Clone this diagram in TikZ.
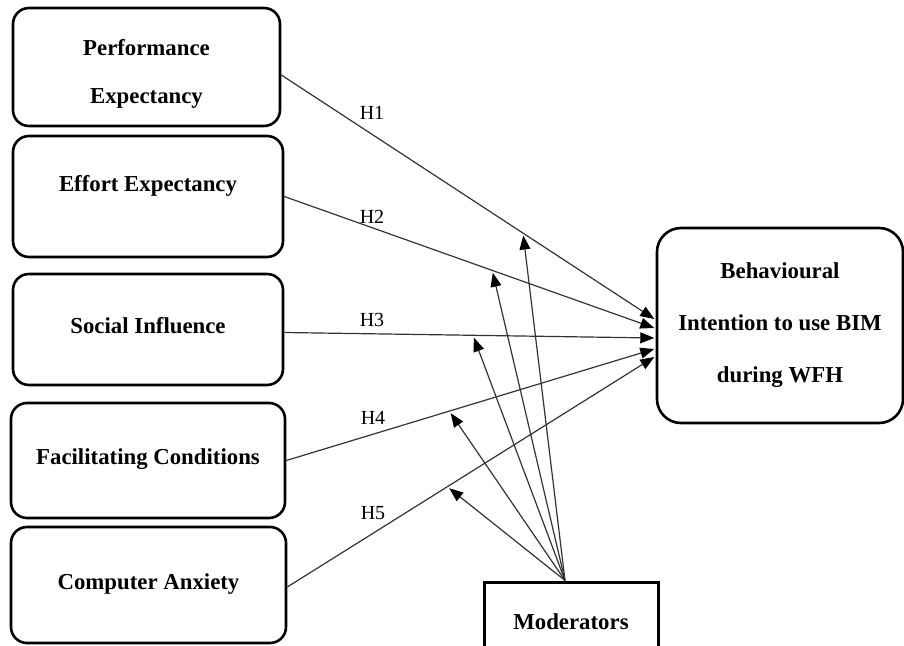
\documentclass[tikz,border=0pt]{standalone}
\usepackage{fontspec}
\setmainfont{Liberation Serif}
\usetikzlibrary{calc, positioning}
\usetikzlibrary{arrows.meta}

\tikzset{
  factor/.style={draw, line width=1.3pt, rounded corners=8pt, align=center, inner sep=0pt,
    font=\fontsize{11.4}{24}\selectfont\bfseries},
  ftext/.style={align=center, inner sep=0pt, font=\fontsize{11.4}{24}\selectfont\bfseries},
  hyp/.style={draw=black!80, line width=0.6pt, -{Triangle[length=7pt, width=5.4pt, color=black]}},
  modarrow/.style={hyp, shorten >=1.2pt},
  hlabel/.style={font=\fontsize{10}{11}\selectfont, inner sep=1pt}
}

\begin{document}
\begin{tikzpicture}[x=0.5pt, y=-0.5pt]
\clip (0,0) rectangle (904,646);

% constructs
\node[factor, minimum width=133.5pt, minimum height=59pt,
  label={[ftext, yshift=-3.5pt]center:Performance\\Expectancy}] (pe) at (146.5,67) {};
\node[factor, minimum width=135pt, minimum height=60.5pt] (ee) at (148,196.5) {\raisebox{13pt}{Effort Expectancy}};
\node[factor, minimum width=135pt, minimum height=55.5pt] (si) at (148,329.5) {\raisebox{4pt}{Social Influence}};
\node[factor, minimum width=137pt, minimum height=57.5pt] (fc) at (148,460.5) {\raisebox{4pt}{Facilitating Conditions}};
\node[factor, minimum width=137.5pt, minimum height=58pt] (ca) at (148.5,585) {\raisebox{3.5pt}{Computer Anxiety}};

\node[factor, rounded corners=12pt, minimum width=123pt, minimum height=97.5pt,
  font=\fontsize{11.4}{26}\selectfont\bfseries] (bi) at (780,325.5) {Behavioural\\Intention to use BIM\\during WFH};

\node[draw, line width=1.5pt, minimum width=87pt, minimum height=40pt,
  font=\fontsize{11.4}{13}\selectfont\bfseries] (mod) at (571,622) {Moderators};

% arrow ends on the target
\coordinate (t1) at ([xshift=-0.7pt, yshift=3.25pt]bi.west);
\coordinate (t2) at ([xshift=-0.7pt, yshift=-1.25pt]bi.west);
\coordinate (t3) at ([xshift=-0.7pt, yshift=-6.25pt]bi.west);
\coordinate (t4) at ([xshift=-0.7pt, yshift=-11.75pt]bi.west);
\coordinate (t5) at ([xshift=-0.7pt, yshift=-15.75pt]bi.west);
\coordinate (ms) at ([xshift=-3pt]mod.north);

% hypotheses
\draw[hyp] ([yshift=-4pt]pe.east) -- (t1) coordinate[pos=0.648] (m1);
\draw[hyp] (ee.east) -- (t2) coordinate[pos=0.562] (m2);
\draw[hyp] ([yshift=-1.5pt]si.east) -- (t3) coordinate[pos=0.51] (m3);
\draw[hyp] (fc.east) -- (t4) coordinate[pos=0.443] (m4);
\draw[hyp] ([yshift=-1pt]ca.east) -- (t5) coordinate[pos=0.436] (m5);

\node[hlabel] (h1) at (372,113) {H1};
\node[hlabel] (h2) at (372,217) {H2};
\node[hlabel] (h3) at (372,320) {H3};
\node[hlabel] (h4) at (373,418) {H4};
\node[hlabel] (h5) at (373,513) {H5};

% moderating effects
\draw[modarrow] (ms) -- (m1);
\draw[modarrow] (ms) -- (m2);
\draw[modarrow] (ms) -- (m3);
\draw[modarrow] (ms) -- (m4);
\draw[modarrow] (ms) -- (m5);
\end{tikzpicture}
\end{document}
